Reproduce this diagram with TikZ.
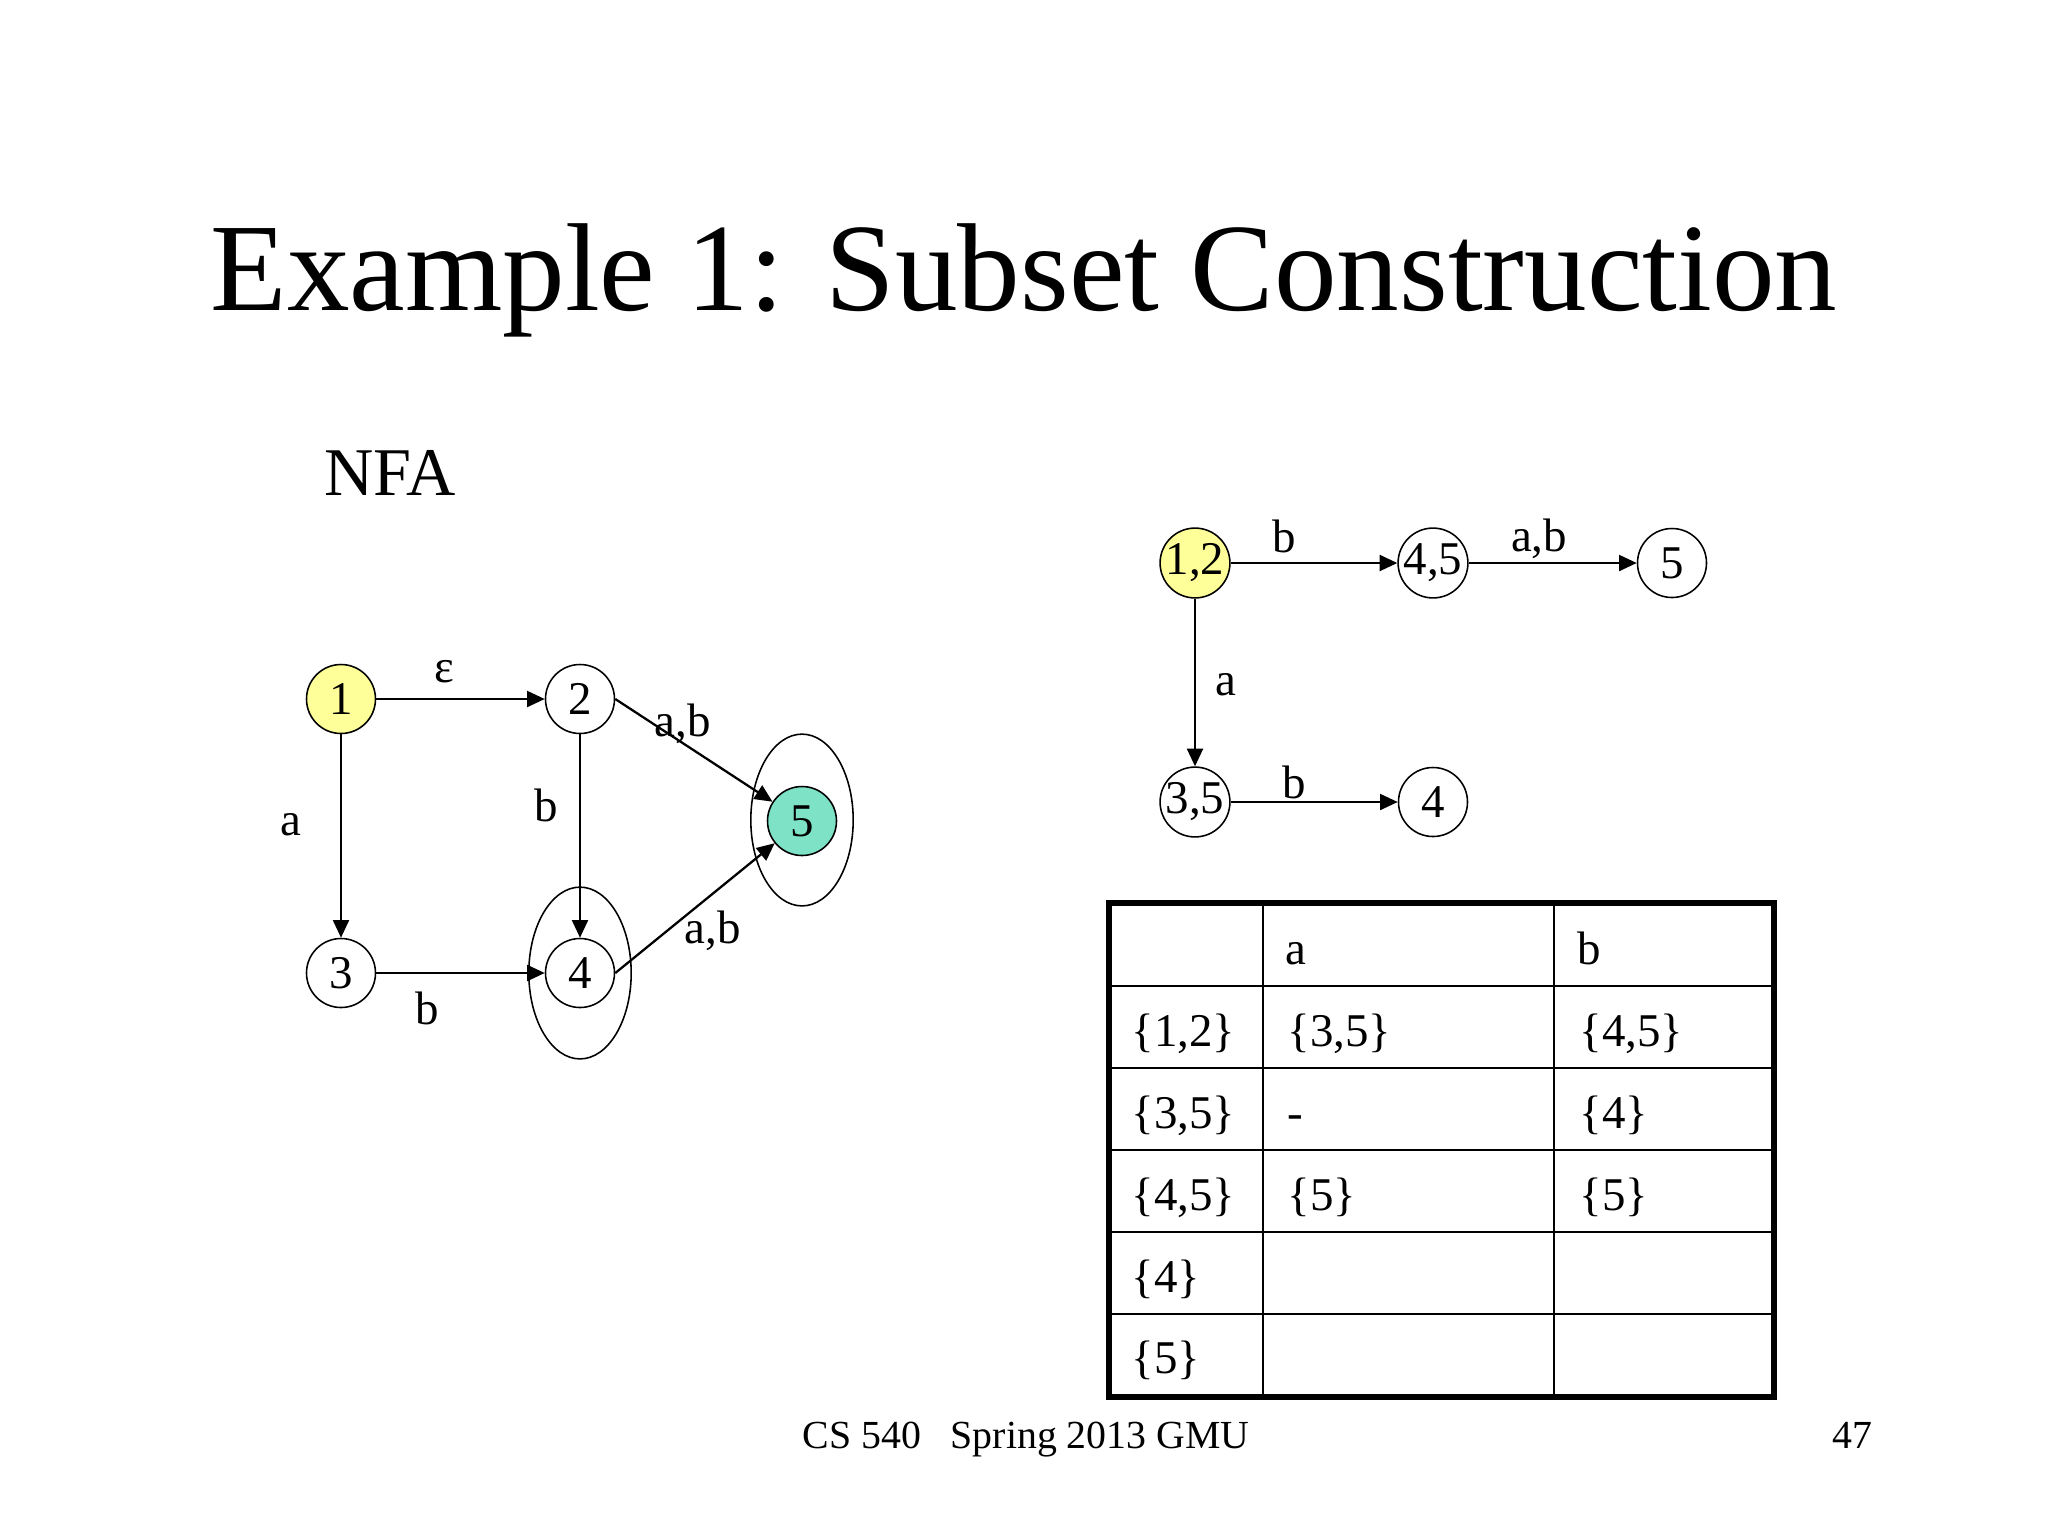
\documentclass[tikz,border=0pt]{standalone}
\usepackage{fontspec}
\setmainfont{Liberation Serif}
\usetikzlibrary{arrows.meta,shapes.geometric}
\definecolor{startyellow}{HTML}{FFFF99}
\definecolor{finalteal}{HTML}{7DE2C6}
\begin{document}
\begin{tikzpicture}[x=0.3516bp,y=-0.3516bp,
  state/.style={circle,draw,line width=0.55bp,minimum size=24.26bp,inner sep=0pt,font=\fontsize{16.5bp}{19bp}\selectfont},
  grp/.style={ellipse,draw,line width=0.55bp,minimum width=36bp,minimum height=60.4bp,inner sep=0pt},
  edge/.style={line width=0.8bp,-{Triangle[length=6.2bp,width=5.6bp]}},
  lbl/.style={inner sep=0pt,font=\fontsize{16.5bp}{19bp}\selectfont},
  cell/.style={anchor=base west,inner sep=0pt,font=\fontsize{16.5bp}{19bp}\selectfont},
  tline/.style={line width=0.75bp},
  tframe/.style={line width=1.8bp}]
\path[use as bounding box,fill=white] (0,0) rectangle (2048,1536);

% title and headings
\node[anchor=base,inner sep=0pt,font=\fontsize{44bp}{53bp}\selectfont] (title) at (1024,310) {Example 1: Subset Construction};
\node[anchor=base west,inner sep=0pt,font=\fontsize{24bp}{29bp}\selectfont] (nfa) at (324,495) {NFA};

% NFA
\node[state,fill=startyellow] (n1) at (341,699) {1};
\node[state] (n2) at (580,699) {2};
\node[state] (n3) at (341,973) {3};
\node[state] (n4) at (580,973) {4};
\node[state,fill=finalteal] (n5) at (802,821) {5};
\node[grp] (g4) at (580,973) {};
\node[grp] (g5) at (802,820) {};

\draw[edge] (n1) -- (n2);
\draw[edge] (n1) -- (n3);
\draw[edge] (n2) -- (n4);
\draw[edge] (n3) -- (n4);
\draw[edge] (n2.east) -- (n5);
\draw[edge] (n4.east) -- (n5);

\node[lbl] (l12) at (444,672) {ε};
\node[lbl] (l13) at (291,825) {a};
\node[lbl] (l24) at (546,805) {b};
\node[lbl] (l34) at (427,1008) {b};
\node[lbl] (l25) at (683,724) {a,b};
\node[lbl] (l45) at (713,931) {a,b};

% DFA
\node[state,fill=startyellow] (d12) at (1195,563) {1,2};
\node[state] (d45) at (1433,563) {4,5};
\node[state] (d5) at (1672,563) {5};
\node[state] (d35) at (1195,802) {3,5};
\node[state] (d4) at (1433,802) {4};

\draw[edge] (d12) -- (d45);
\draw[edge] (d45) -- (d5);
\draw[edge] (d12) -- (d35);
\draw[edge] (d35) -- (d4);

\node[lbl] (m1) at (1284,536) {b};
\node[lbl] (m2) at (1539,539) {a,b};
\node[lbl] (m3) at (1226,685) {a};
\node[lbl] (m4) at (1294,782) {b};

% table
\foreach \yy in {986,1068,1150,1232,1314} \draw[tline] (1109,\yy) -- (1774,\yy);
\foreach \xx in {1263,1554} \draw[tline] (\xx,903) -- (\xx,1397);
\draw[tframe] (1109,903) rectangle (1774,1397);

\node[cell] (ha) at (1285,964) {a};
\node[cell] (hb) at (1577,964) {b};
\node[cell] (r1) at (1131,1046) {\{1,2\}};
\node[cell] (r1a) at (1287,1046) {\{3,5\}};
\node[cell] (r1b) at (1579,1046) {\{4,5\}};
\node[cell] (r2) at (1131,1128) {\{3,5\}};
\node[cell] (r2a) at (1287,1128) {-};
\node[cell] (r2b) at (1579,1128) {\{4\}};
\node[cell] (r3) at (1131,1210) {\{4,5\}};
\node[cell] (r3a) at (1287,1210) {\{5\}};
\node[cell] (r3b) at (1579,1210) {\{5\}};
\node[cell] (r4) at (1131,1292) {\{4\}};
\node[cell] (r5) at (1131,1373) {\{5\}};

% footer
\node[anchor=base west,inner sep=0pt,font=\fontsize{14bp}{17bp}\selectfont] (foot) at (802,1448) {CS 540\ \ \ Spring 2013 GMU};
\node[anchor=base east,inner sep=0pt,font=\fontsize{14bp}{17bp}\selectfont] (page) at (1873,1448) {47};
\end{tikzpicture}
\end{document}
